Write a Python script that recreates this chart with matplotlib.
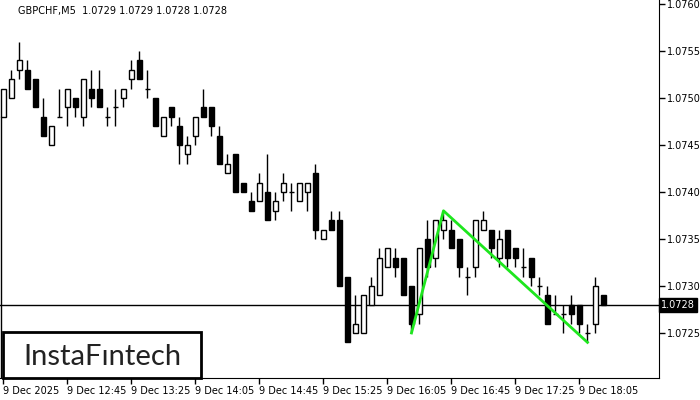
import matplotlib.pyplot as plt
from matplotlib.patches import Rectangle

# GBPCHF M5 candles, 9 Dec 2025 12:05 - 18:20
opens = [1.0748, 1.0750, 1.0753, 1.0753, 1.0752, 1.0748, 1.0745, 1.0748, 1.0749, 1.0750,
         1.0748, 1.0751, 1.0751, 1.0748, 1.0749, 1.0750, 1.0752, 1.0754, 1.0751, 1.0750,
         1.0746, 1.0749, 1.0747, 1.0744, 1.0746, 1.0749, 1.0749, 1.0746, 1.0742, 1.0744,
         1.0741, 1.0739, 1.0739, 1.0740, 1.0738, 1.0740, 1.0740, 1.0739, 1.0740, 1.0742,
         1.0735, 1.0737, 1.0737, 1.0731, 1.0725, 1.0725, 1.0728, 1.0729, 1.0732, 1.0733,
         1.0733, 1.0730, 1.0727, 1.0735, 1.0733, 1.0736, 1.0736, 1.0735, 1.0731, 1.0732,
         1.0736, 1.0736, 1.0733, 1.0736, 1.0734, 1.0732, 1.0733, 1.0730, 1.0729, 1.0727,
         1.0727, 1.0728, 1.0728, 1.0725, 1.0726, 1.0729]
highs = [1.0751, 1.0753, 1.0756, 1.0754, 1.0752, 1.0750, 1.0747, 1.0751, 1.0751, 1.0750,
         1.0752, 1.0753, 1.0753, 1.0749, 1.0751, 1.0751, 1.0754, 1.0755, 1.0753, 1.0750,
         1.0748, 1.0749, 1.0748, 1.0746, 1.0748, 1.0751, 1.0749, 1.0747, 1.0744, 1.0744,
         1.0741, 1.0740, 1.0742, 1.0744, 1.0740, 1.0742, 1.0741, 1.0741, 1.0741, 1.0743,
         1.0736, 1.0738, 1.0738, 1.0731, 1.0729, 1.0729, 1.0731, 1.0734, 1.0734, 1.0734,
         1.0733, 1.0730, 1.0734, 1.0737, 1.0737, 1.0738, 1.0737, 1.0735, 1.0732, 1.0737,
         1.0738, 1.0736, 1.0736, 1.0736, 1.0734, 1.0734, 1.0733, 1.0731, 1.0730, 1.0729,
         1.0728, 1.0729, 1.0728, 1.0726, 1.0731, 1.0729]
lows = [1.0748, 1.0750, 1.0752, 1.0751, 1.0749, 1.0746, 1.0745, 1.0748, 1.0747, 1.0748,
        1.0747, 1.0749, 1.0749, 1.0747, 1.0747, 1.0749, 1.0751, 1.0752, 1.0750, 1.0747,
        1.0746, 1.0747, 1.0743, 1.0743, 1.0745, 1.0748, 1.0746, 1.0743, 1.0742, 1.0740,
        1.0740, 1.0738, 1.0739, 1.0737, 1.0737, 1.0739, 1.0738, 1.0739, 1.0738, 1.0735,
        1.0735, 1.0736, 1.0730, 1.0724, 1.0725, 1.0725, 1.0728, 1.0729, 1.0732, 1.0731,
        1.0729, 1.0725, 1.0726, 1.0731, 1.0732, 1.0735, 1.0734, 1.0731, 1.0729, 1.0731,
        1.0736, 1.0733, 1.0732, 1.0732, 1.0732, 1.0731, 1.0730, 1.0729, 1.0726, 1.0727,
        1.0725, 1.0726, 1.0725, 1.0724, 1.0725, 1.0728]
closes = [1.0751, 1.0752, 1.0754, 1.0751, 1.0749, 1.0746, 1.0747, 1.0748, 1.0751, 1.0749,
          1.0752, 1.0750, 1.0749, 1.0748, 1.0749, 1.0751, 1.0753, 1.0752, 1.0751, 1.0747,
          1.0748, 1.0748, 1.0745, 1.0745, 1.0748, 1.0748, 1.0747, 1.0743, 1.0743, 1.0740,
          1.0740, 1.0738, 1.0741, 1.0737, 1.0739, 1.0741, 1.0740, 1.0741, 1.0741, 1.0736,
          1.0736, 1.0736, 1.0730, 1.0724, 1.0726, 1.0729, 1.0730, 1.0733, 1.0734, 1.0732,
          1.0729, 1.0726, 1.0734, 1.0732, 1.0737, 1.0737, 1.0734, 1.0732, 1.0731, 1.0737,
          1.0737, 1.0734, 1.0735, 1.0733, 1.0733, 1.0732, 1.0731, 1.0730, 1.0726, 1.0727,
          1.0727, 1.0727, 1.0726, 1.0725, 1.0730, 1.0728]

time_labels = ["9 Dec 2025", "9 Dec 12:45", "9 Dec 13:25", "9 Dec 14:05", "9 Dec 14:45",
               "9 Dec 15:25", "9 Dec 16:05", "9 Dec 16:45", "9 Dec 17:25", "9 Dec 18:05"]
price_ticks = [1.0725, 1.0730, 1.0735, 1.0740, 1.0745, 1.0750, 1.0755, 1.0760]

# double top pattern points: (candle index, price)
pattern_idx = [51, 55, 73]
pattern_px = [1.0725, 1.0738, 1.0724]

fig = plt.figure(figsize=(7, 4), dpi=100)
ax = fig.add_axes([0, 22 / 400, 659 / 700, 378 / 400])

n = len(opens)
xs = list(range(n))
w = 0.55
for i in xs:
    o, h, l, c = opens[i], highs[i], lows[i], closes[i]
    ax.vlines(i, l, h, color="black", lw=1, zorder=2)
    if c > o:
        ax.bar(i, c - o, bottom=o, width=w, color="white", edgecolor="black", lw=1, zorder=3)
    elif c < o:
        ax.bar(i, o - c, bottom=c, width=w, color="black", edgecolor="black", lw=1, zorder=3)
    else:
        ax.hlines(o, i - w / 2, i + w / 2, color="black", lw=1, zorder=3)

ymin = 1.072021
ymax = 1.0760426
# stray vertical line at left edge
ax.plot([-0.28, -0.28], [1.0748, ymin], color="black", lw=1, zorder=2)

ax.plot(pattern_idx, pattern_px, color="#1ee61e", lw=2, zorder=4)
ax.axhline(closes[-1], color="black", lw=1, zorder=1)

ax.set_xlim(-0.4375, 81.94)
ax.set_ylim(ymin, ymax)

ax.spines["left"].set_visible(False)
ax.spines["top"].set_visible(False)
ax.yaxis.tick_right()
ax.set_yticks(price_ticks)
ax.set_yticklabels(["%.4f" % p for p in price_ticks])
ax.set_xticks(list(range(0, n, 8))[:len(time_labels)])
ax.set_xticklabels(time_labels, ha="left")
ax.tick_params(axis="both", labelsize=7, length=4, width=1, direction="out", pad=2)

fig.text(18 / 700, 1 - 11 / 400, "GBPCHF,M5  1.0729 1.0729 1.0728 1.0728",
         fontsize=7, va="center", ha="left")

# current price box
ax.text(1.0035, closes[-1], "1.0728", transform=ax.get_yaxis_transform(),
        fontsize=7, color="white", va="center", ha="left",
        bbox=dict(boxstyle="square,pad=0.2", fc="black", ec="black"))

# logo
fig.add_artist(Rectangle((3 / 700, 22 / 400), 198 / 700, 46 / 400, transform=fig.transFigure,
                         fc="white", ec="black", lw=2, zorder=10))
fig.text(102 / 700, 1 - 357 / 400, "InstaF\u0131ntech", fontsize=21, family="Lato",
         color="#222222", ha="center", va="center", zorder=11)

plt.savefig("out.png", dpi=100)
